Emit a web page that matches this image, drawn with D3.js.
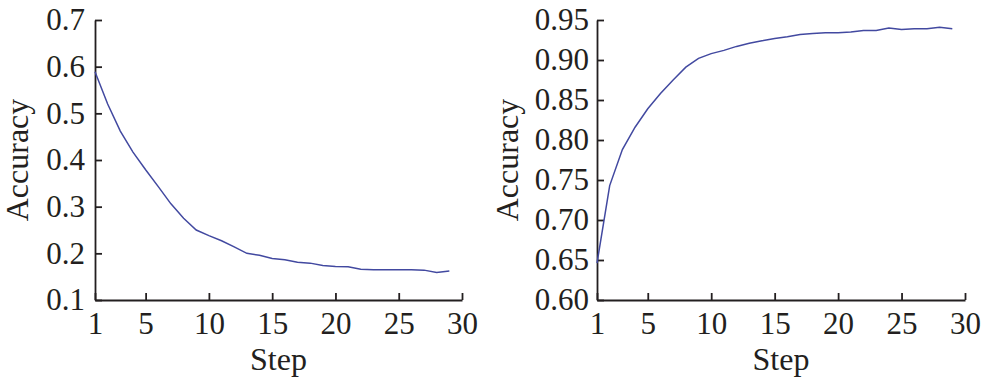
<!DOCTYPE html>
<html>
<head>
<meta charset="utf-8">
<script src="https://cdn.jsdelivr.net/npm/d3@7"></script>
<style>
  html, body { margin: 0; padding: 0; background: #fff; }
  svg { display: block; }
  text { font-family: "Liberation Serif", "Times New Roman", serif; fill: #231f20; }
</style>
</head>
<body>
<svg id="chart" width="984" height="382"></svg>
<script>
// ---- Data ----
const steps = d3.range(1, 30); // 1..29
const xTicks = [1, 5, 10, 15, 20, 25, 30];

const leftValues = [0.589, 0.520, 0.462, 0.417, 0.379, 0.343, 0.306, 0.275, 0.250, 0.238,
                    0.227, 0.214, 0.200, 0.196, 0.189, 0.186, 0.181, 0.179, 0.174, 0.172,
                    0.171, 0.166, 0.165, 0.165, 0.165, 0.165, 0.164, 0.159, 0.162];
const leftYTicks = [0.1, 0.2, 0.3, 0.4, 0.5, 0.6, 0.7];

const rightValues = [0.646, 0.743, 0.788, 0.816, 0.839, 0.858, 0.875, 0.891, 0.902, 0.908,
                     0.912, 0.917, 0.921, 0.924, 0.927, 0.929, 0.932, 0.933, 0.934, 0.934,
                     0.935, 0.937, 0.937, 0.940, 0.938, 0.939, 0.939, 0.941, 0.939];
const rightYTicks = [0.60, 0.65, 0.70, 0.75, 0.80, 0.85, 0.90, 0.95];

const xLabel = "Step";
const yLabel = "Accuracy";

// ---- Drawing ----
const svg = d3.select("#chart");
const lineColor = "#4249a0";

function panel(cfg) {
  const x = d3.scaleLinear().domain([1, 30]).range([cfg.x0, cfg.x1]);
  const y = d3.scaleLinear().domain(cfg.yDomain).range([300, 20]);
  const g = svg.append("g");

  const xa = g.append("g").attr("transform", "translate(0,300)")
    .call(d3.axisBottom(x).tickValues(xTicks).tickFormat(d3.format("d"))
      .tickSizeInner(-7).tickSizeOuter(0).tickPadding(12));
  const ya = g.append("g").attr("transform", `translate(${cfg.x0},0)`)
    .call(d3.axisLeft(y).tickValues(cfg.yTicks).tickFormat(d3.format(cfg.fmt))
      .tickSizeInner(-7).tickSizeOuter(0).tickPadding(cfg.pad));

  [xa, ya].forEach(a => {
    a.select(".domain").attr("stroke", "#231f20").attr("stroke-width", 1.8);
    a.selectAll(".tick line").attr("stroke", "#231f20").attr("stroke-width", 1.8);
    a.selectAll(".tick text").attr("font-size", 31)
      .attr("font-family", "'Liberation Serif', 'Times New Roman', serif")
      .attr("fill", "#231f20");
  });

  g.append("path")
    .datum(steps.map((s, i) => [s, cfg.values[i]]))
    .attr("fill", "none")
    .attr("stroke", lineColor)
    .attr("stroke-width", 1.5)
    .attr("d", d3.line().x(d => x(d[0])).y(d => y(d[1])));

  g.append("text")
    .attr("x", (cfg.x0 + cfg.x1) / 2)
    .attr("y", 370)
    .attr("text-anchor", "middle")
    .attr("font-size", 32)
    .text(xLabel);

  g.append("text")
    .attr("transform", `translate(${cfg.yLabelX},160) rotate(-90)`)
    .attr("text-anchor", "middle")
    .attr("font-size", 32)
    .text(yLabel);
}

panel({ x0: 95, x1: 462, yDomain: [0.1, 0.7], yTicks: leftYTicks, fmt: ".1f",
        values: leftValues, pad: 10, yLabelX: 28 });
panel({ x0: 597, x1: 965, yDomain: [0.60, 0.95], yTicks: rightYTicks, fmt: ".2f",
        values: rightValues, pad: 8, yLabelX: 518 });
</script>
</body>
</html>
